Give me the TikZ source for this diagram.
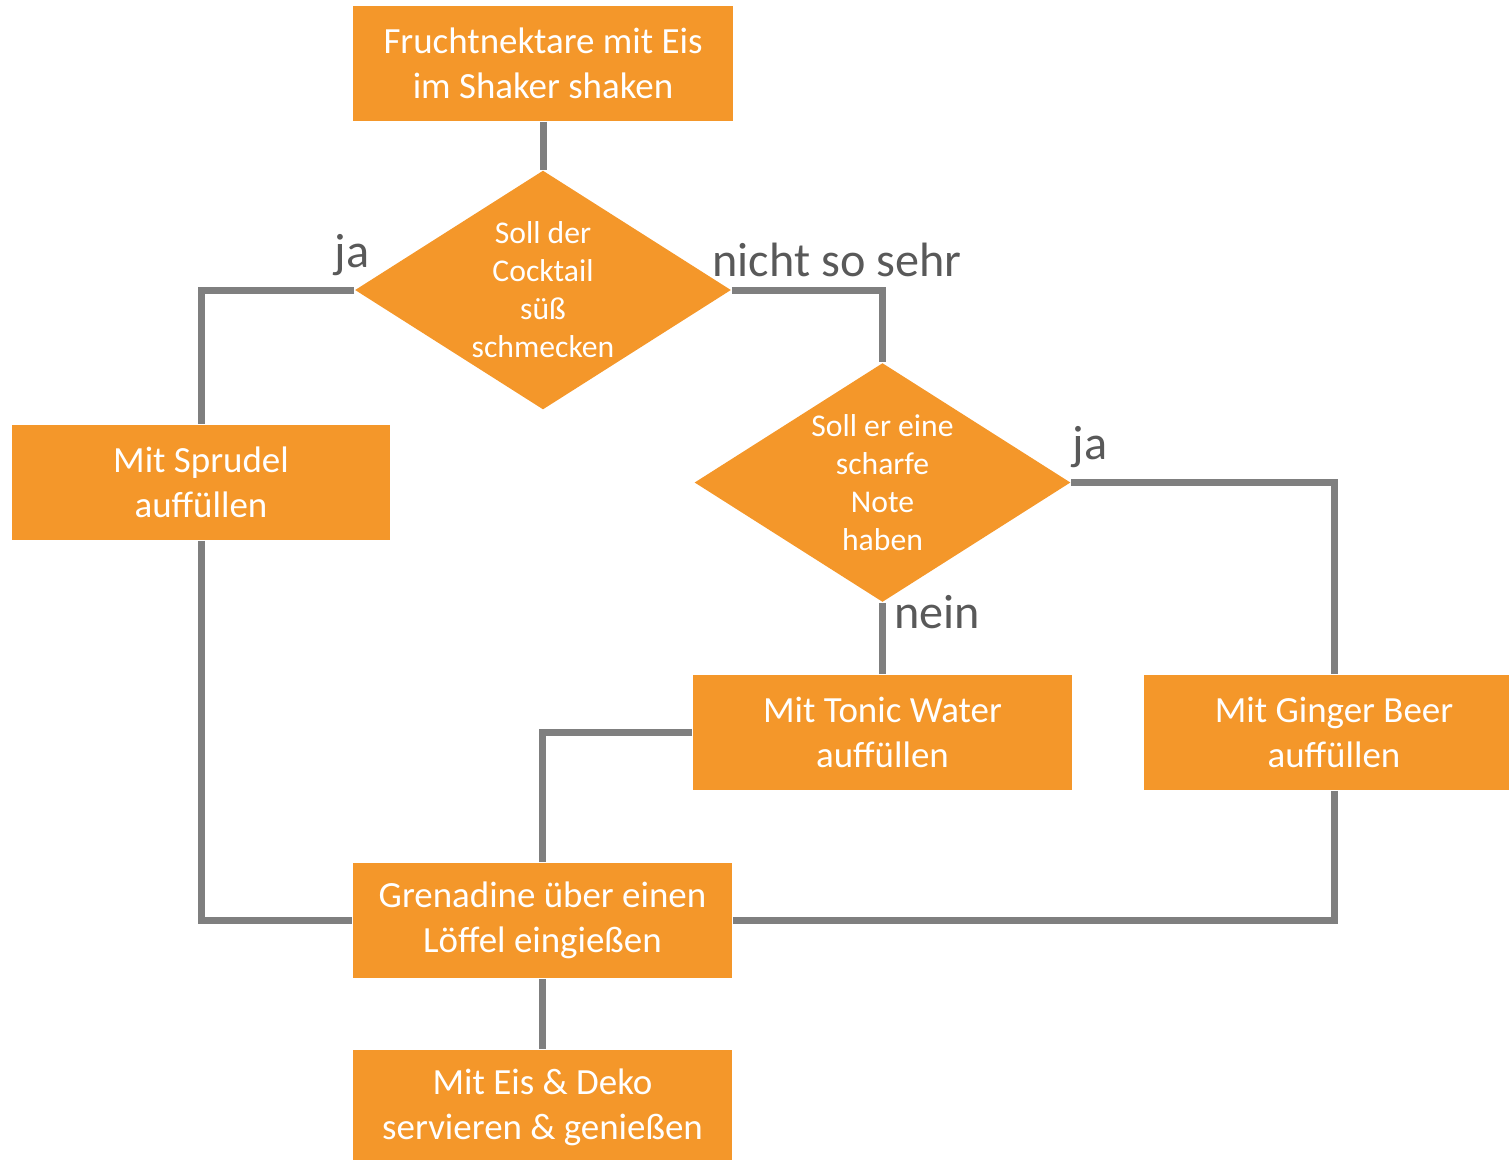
\documentclass[tikz,border=0pt]{standalone}
\usepackage{fontspec}
\setmainfont{Carlito}
\usetikzlibrary{shapes.geometric}
\definecolor{cocktail}{HTML}{F4972A}
\definecolor{wire}{HTML}{7F7F7F}
\definecolor{labeltext}{HTML}{595959}
\begin{document}
\begin{tikzpicture}[
    x = 0.01cm,
    y = -0.01cm,
    step_box/.style = {rectangle, fill=cocktail, text=white, align=center,
    minimum width=3.79cm, minimum height=1.15cm, inner sep=0pt,
    font=\fontsize{10.5}{12.8}\selectfont},
    question/.style = {diamond, fill=cocktail, text=white, align=center,
    minimum width=3.76cm, minimum height=2.39cm, inner sep=-0.11cm,
    font=\fontsize{9}{10.8}\selectfont},
    wire_line/.style = {draw=wire, line width=0.07cm},
    answer/.style = {text=labeltext, inner sep=0pt,
    font=\fontsize{13.7}{15}\selectfont},
]

\useasboundingbox (0,0) rectangle (1509,1159);

\node[step_box] (box_shake) at (543,63.5){Fruchtnektare mit Eis\\im Shaker shaken};
\node[question] (ask_sweet) at (543,290){Soll der\\Cocktail\\süß\\schmecken};
\node[step_box, minimum width=3.78cm] (box_sprudel) at (201,482.5){Mit Sprudel\\auffüllen};
\node[question] (ask_spicy) at (882.5,482.5){Soll er eine\\scharfe\\Note\\haben};
\node[step_box] (box_tonic) at (882.5,732.5){Mit Tonic Water\\auffüllen};
\node[step_box] (box_ginger) at (1334,732.5){Mit Ginger Beer\\auffüllen};
\node[step_box] (box_grenadine) at (542.5,920.5){Grenadine über einen\\Löffel eingießen};
\node[step_box] (box_serve) at (542.5,1107.5){Mit Eis \& Deko\\servieren \& genießen};

\draw [wire_line] (box_shake) -- (ask_sweet);
\draw [wire_line] (ask_sweet.west) -| (box_sprudel.north);
\draw [wire_line] (ask_sweet.east) -| (ask_spicy.north);
\draw [wire_line] (ask_spicy.east) -| (box_ginger.north);
\draw [wire_line] (ask_spicy.south) -- (box_tonic.north);
\draw [wire_line] (box_tonic.west) -| (box_grenadine.north);
\draw [wire_line] (box_sprudel.south) |- (box_grenadine.west);
\draw [wire_line] (box_ginger.south) |- (box_grenadine.east);
\draw [wire_line] (box_grenadine) -- (box_serve);

\node[answer] (lbl_sweet_yes) at (352,255){ja};
\node[answer] (lbl_sweet_no) at (837,260){nicht so sehr};
\node[answer] (lbl_spicy_yes) at (1090,447){ja};
\node[answer] (lbl_spicy_no) at (937,612){nein};

\end{tikzpicture}
\end{document}
